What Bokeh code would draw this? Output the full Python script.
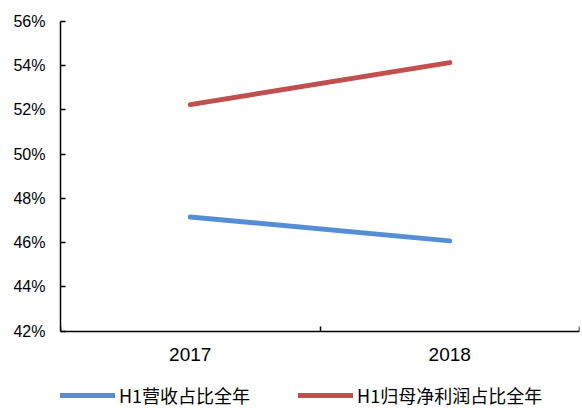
from bokeh.plotting import figure
from bokeh.models import Range1d, FixedTicker, NumeralTickFormatter, Legend, LegendItem
from bokeh.core.properties import value
from bokeh.embed import file_html
from bokeh.resources import INLINE

years = ["2017", "2018"]
rev_share = [0.4716, 0.4608]
np_share = [0.5224, 0.5414]
y_ticks = [0.42, 0.44, 0.46, 0.48, 0.50, 0.52, 0.54, 0.56]
series_names = ["H1营收占比全年", "H1归母净利润占比全年"]
colors = ["#558ED5", "#C0504D"]

xs = [i + 0.5 for i in range(len(years))]
bounds = [float(i) for i in range(len(years) + 1)]
y_base = y_ticks[0]

# frame extends below the x axis so the legend can sit inside it
p = figure(width=582, height=408, output_backend="svg", toolbar_location=None,
           x_range=Range1d(0, len(years)), y_range=Range1d(0.385, y_ticks[-1]),
           min_border_left=60, min_border_top=21, min_border_right=3, min_border_bottom=0)
p.outline_line_color = None
p.xgrid.visible = False
p.ygrid.visible = False
p.background_fill_color = "white"
p.border_fill_color = "white"

r1 = p.line(xs, rev_share, line_width=5, line_color=colors[0], line_cap="round")
r2 = p.line(xs, np_share, line_width=5, line_color=colors[1], line_cap="round")

# category labels under the axis line
p.text(x=xs, y=[y_base] * len(years), text=years, text_align="center",
       text_baseline="middle", y_offset=23, text_font=value("Liberation Sans"),
       text_font_size="19px", text_color="black")

xa = p.xaxis[0]
xa.fixed_location = y_base
xa.ticker = FixedTicker(ticks=[], minor_ticks=bounds)
xa.major_tick_line_color = None
xa.major_label_standoff = 0
xa.minor_tick_in = 5
xa.minor_tick_out = 0
xa.minor_tick_line_color = "black"
xa.minor_tick_line_width = 1.5
xa.axis_line_color = "black"
xa.axis_line_width = 1.5

ya = p.yaxis[0]
ya.ticker = FixedTicker(ticks=y_ticks)
ya.bounds = (y_ticks[0], y_ticks[-1])
ya.formatter = NumeralTickFormatter(format="0%")
ya.major_tick_in = 5
ya.major_tick_out = 0
ya.minor_tick_line_color = None
ya.major_tick_line_width = 1.5
ya.axis_line_width = 1.5
ya.axis_line_color = "black"
ya.major_tick_line_color = "black"
ya.major_label_standoff = 15
ya.major_label_text_font = "Liberation Sans"
ya.major_label_text_font_size = "16px"
ya.major_label_text_color = "black"

legend = Legend(items=[LegendItem(label=series_names[0], renderers=[r1]),
                       LegendItem(label=series_names[1], renderers=[r2])],
                location=(0, 0), orientation="horizontal",
                glyph_width=55, glyph_height=16, label_height=16, label_standoff=4,
                spacing=48, padding=0, margin=0, border_line_color=None,
                background_fill_alpha=0,
                label_text_font="Noto Sans CJK SC", label_text_font_size="18px",
                label_text_color="black")
p.add_layout(legend, "center")

open("out.html", "w").write(file_html(p, INLINE))
